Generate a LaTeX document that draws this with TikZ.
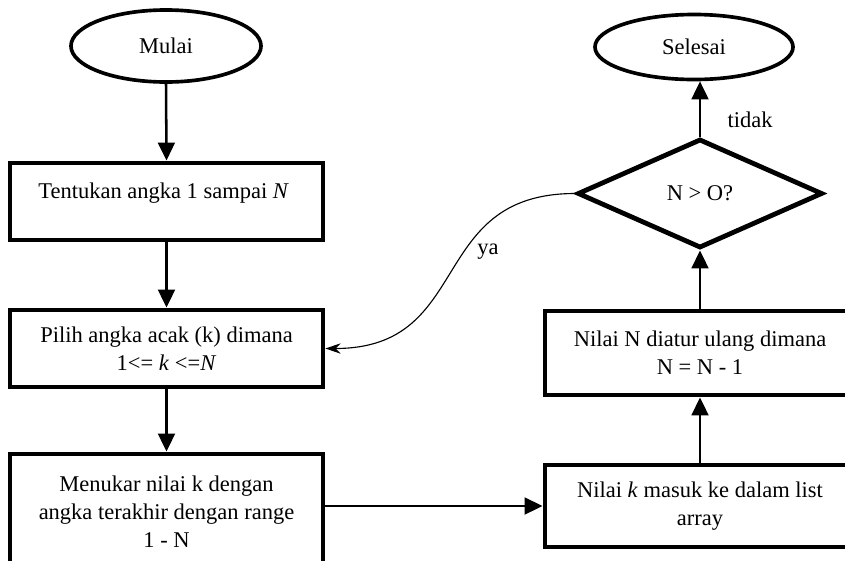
\documentclass[tikz,border=0pt]{standalone}
\usepackage{fontspec}
\setmainfont{Liberation Serif}
\usetikzlibrary{arrows.meta,shapes.geometric}

\begin{document}
\begin{tikzpicture}[
  x=0.025cm, y=-0.025cm,
  every node/.style={font=\fontsize{16}{20}\selectfont},
  box/.style={draw=black, line width=3.4pt, align=center, inner sep=0pt, minimum width=7.825cm},
  terminal/.style={ellipse, draw=black, line width=2.6pt, inner sep=0pt},
  decision/.style={diamond, draw=black, line width=3.4pt, inner sep=0pt, aspect=2.25, minimum width=6.125cm, minimum height=2.725cm},
  arrow/.style={-{Triangle[length=0.45cm,width=0.42cm]}, line width=1.8pt},
  yaarrow/.style={-{Stealth[length=0.38cm,width=0.26cm]}, line width=0.8pt},
]

\useasboundingbox (0,0) rectangle (845,560);

\node[terminal, minimum width=4.75cm, minimum height=1.8cm] (mulai) at (166,46) {Mulai};

\node[box, minimum height=1.925cm, text depth=15.5pt] (tentukan) at (166.5,201.5) {
    Tentukan angka 1 sampai \textit{N}
};

\node[box, minimum height=1.925cm] (pilih) at (166.5,348.5) {
    Pilih angka acak (k) dimana\\
    1<= \textit{k} <=\textit{N}
};

\node[box, minimum height=2.9cm] (tukar) at (166.5,512) {
    Menukar nilai k dengan\\
    angka terakhir dengan range\\
    1 - N
};

\node[box, minimum width=7.75cm, minimum height=2.05cm] (masuk) at (700,506) {
    Nilai \textit{k} masuk ke dalam list\\
    array
};

\node[box, minimum width=7.75cm, minimum height=2.1cm] (atur) at (700,353) {
    Nilai N diatur ulang dimana\\
    N = N - 1
};

\node[decision] (cek) at (700,193.5) {N > O?};

\node[terminal, minimum width=4.95cm, minimum height=1.625cm] (selesai) at (694,47) {Selesai};

\node (tidak) at (750,120) {tidak};
\node (ya) at (488,252) {ya};

\draw[arrow] (mulai.south) -- (tentukan.north);
\draw[arrow] (tentukan.south) -- (pilih.north);
\draw[arrow] (pilih.south) -- (tukar.north);
\draw[arrow] (masuk.west -| tukar.east) -- (masuk.west);
\draw[arrow] (masuk.north) -- (atur.south);
\draw[arrow] (atur.north) -- (cek.south);
\draw[arrow] (cek.north) -- (cek.north |- selesai.south);
\draw[yaarrow] (cek.west) to[out=180,in=0,looseness=1.3] (pilih.east);

\end{tikzpicture}
\end{document}
